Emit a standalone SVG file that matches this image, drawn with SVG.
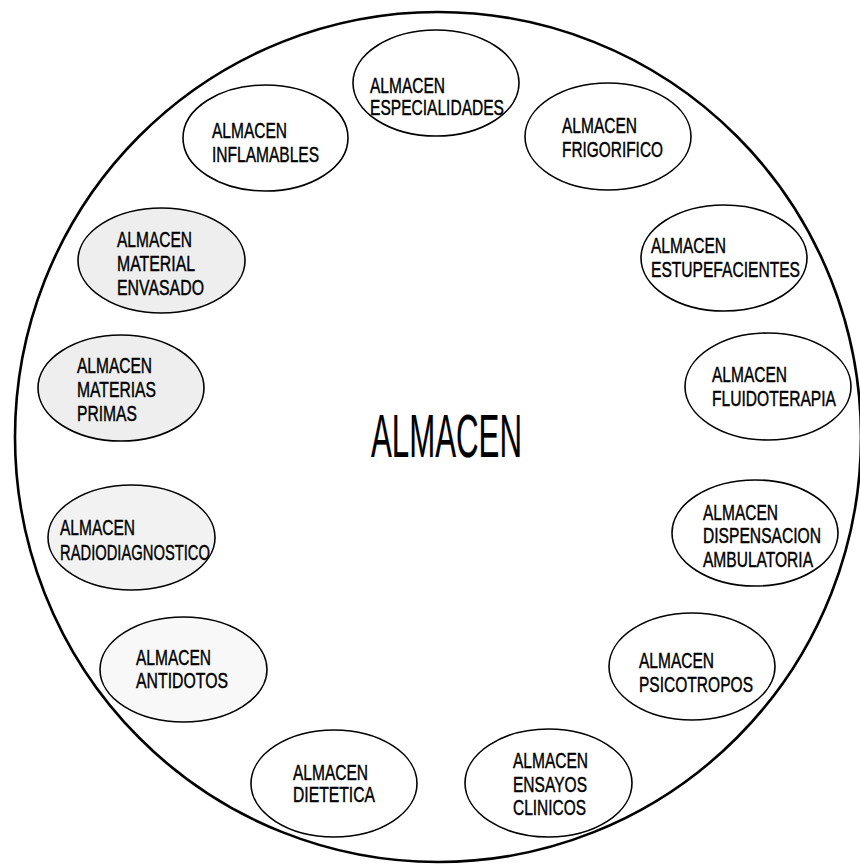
<svg xmlns="http://www.w3.org/2000/svg" width="860" height="864" viewBox="0 0 860 864">
<style>
.outer{fill:none;stroke:#000;stroke-width:2.6}
.node{fill:#fff;stroke:#000;stroke-width:1.6}
.g1{fill:#eeeeee}
.g2{fill:#f2f2f2}
.g3{fill:#f8f8f8}
text{font-family:"Liberation Sans",Arial,sans-serif;font-size:22.5px;fill:#000;stroke:#000;stroke-width:0.45}
.big{font-size:62px;stroke-width:0.2}
</style>
<rect width="860" height="864" fill="#fff"/>
<ellipse class="outer" cx="438" cy="437" rx="423" ry="425"/>
<text class="big" x="371" y="457" textLength="151" lengthAdjust="spacingAndGlyphs">ALMACEN</text>
<g id="especialidades">
<ellipse class="node" cx="436" cy="83" rx="83" ry="53"/>
<text x="370" y="93" textLength="75" lengthAdjust="spacingAndGlyphs">ALMACEN</text>
<text x="370" y="115" textLength="134" lengthAdjust="spacingAndGlyphs">ESPECIALIDADES</text>
</g>
<g id="inflamables">
<ellipse class="node" cx="265.5" cy="138" rx="82.5" ry="53"/>
<text x="212" y="138" textLength="75" lengthAdjust="spacingAndGlyphs">ALMACEN</text>
<text x="212" y="162" textLength="107" lengthAdjust="spacingAndGlyphs">INFLAMABLES</text>
</g>
<g id="frigorifico">
<ellipse class="node" cx="608" cy="136.5" rx="83" ry="53.5"/>
<text x="562" y="133" textLength="75" lengthAdjust="spacingAndGlyphs">ALMACEN</text>
<text x="562" y="157" textLength="101" lengthAdjust="spacingAndGlyphs">FRIGORIFICO</text>
</g>
<g id="estupefacientes">
<ellipse class="node" cx="724" cy="258" rx="83" ry="53"/>
<text x="651" y="253" textLength="75" lengthAdjust="spacingAndGlyphs">ALMACEN</text>
<text x="651" y="277" textLength="149" lengthAdjust="spacingAndGlyphs">ESTUPEFACIENTES</text>
</g>
<g id="fluidoterapia">
<ellipse class="node" cx="768" cy="386.5" rx="83" ry="53.5"/>
<text x="712" y="382" textLength="75" lengthAdjust="spacingAndGlyphs">ALMACEN</text>
<text x="712" y="406" textLength="124" lengthAdjust="spacingAndGlyphs">FLUIDOTERAPIA</text>
</g>
<g id="dispensacion">
<ellipse class="node" cx="755" cy="533" rx="83" ry="53"/>
<text x="703" y="520" textLength="75" lengthAdjust="spacingAndGlyphs">ALMACEN</text>
<text x="703" y="543" textLength="118" lengthAdjust="spacingAndGlyphs">DISPENSACION</text>
<text x="703" y="567" textLength="110" lengthAdjust="spacingAndGlyphs">AMBULATORIA</text>
</g>
<g id="psicotropos">
<ellipse class="node" cx="692" cy="666.5" rx="83" ry="53.5"/>
<text x="639" y="668" textLength="75" lengthAdjust="spacingAndGlyphs">ALMACEN</text>
<text x="639" y="692" textLength="114" lengthAdjust="spacingAndGlyphs">PSICOTROPOS</text>
</g>
<g id="ensayos">
<ellipse class="node" cx="548.5" cy="783" rx="83.5" ry="54"/>
<text x="513" y="768" textLength="75" lengthAdjust="spacingAndGlyphs">ALMACEN</text>
<text x="513" y="792" textLength="74" lengthAdjust="spacingAndGlyphs">ENSAYOS</text>
<text x="513" y="815" textLength="73" lengthAdjust="spacingAndGlyphs">CLINICOS</text>
</g>
<g id="dietetica">
<ellipse class="node" cx="334" cy="783.5" rx="83" ry="53.5"/>
<text x="293" y="780" textLength="75" lengthAdjust="spacingAndGlyphs">ALMACEN</text>
<text x="293" y="802" textLength="82" lengthAdjust="spacingAndGlyphs">DIETETICA</text>
</g>
<g id="antidotos">
<ellipse class="node g3" cx="183.5" cy="669.5" rx="83.5" ry="52.5"/>
<text x="136" y="665" textLength="75" lengthAdjust="spacingAndGlyphs">ALMACEN</text>
<text x="136" y="688" textLength="92" lengthAdjust="spacingAndGlyphs">ANTIDOTOS</text>
</g>
<g id="radiodiagnostico">
<ellipse class="node g2" cx="131.5" cy="537.5" rx="83.5" ry="52.5"/>
<text x="60" y="535" textLength="75" lengthAdjust="spacingAndGlyphs">ALMACEN</text>
<text x="60" y="560" textLength="150" lengthAdjust="spacingAndGlyphs">RADIODIAGNOSTICO</text>
</g>
<g id="materias-primas">
<ellipse class="node g1" cx="121" cy="388" rx="83" ry="53"/>
<text x="77" y="373" textLength="75" lengthAdjust="spacingAndGlyphs">ALMACEN</text>
<text x="77" y="397" textLength="79" lengthAdjust="spacingAndGlyphs">MATERIAS</text>
<text x="77" y="421" textLength="60" lengthAdjust="spacingAndGlyphs">PRIMAS</text>
</g>
<g id="material-envasado">
<ellipse class="node g1" cx="161.5" cy="260.5" rx="83.5" ry="52.5"/>
<text x="117" y="247" textLength="75" lengthAdjust="spacingAndGlyphs">ALMACEN</text>
<text x="117" y="271" textLength="78" lengthAdjust="spacingAndGlyphs">MATERIAL</text>
<text x="117" y="295" textLength="87" lengthAdjust="spacingAndGlyphs">ENVASADO</text>
</g>
<g id="connectors"/>
</svg>
